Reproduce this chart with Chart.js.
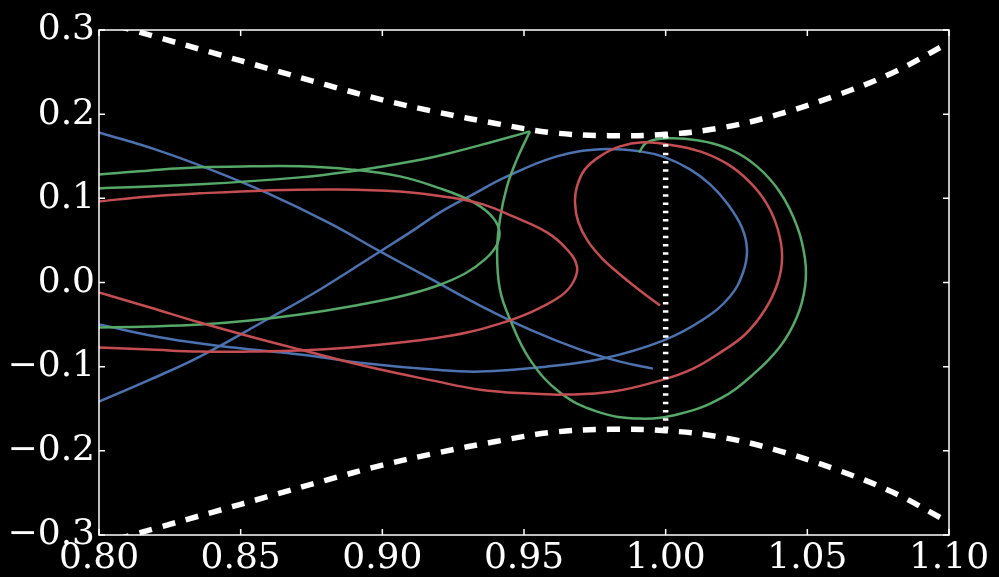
<!DOCTYPE html>
<html><head><meta charset="utf-8">
<script src="https://cdn.jsdelivr.net/npm/chart.js@4/dist/chart.umd.min.js"></script>
<style>html,body{margin:0;padding:0;background:#000;overflow:hidden}canvas{display:block}</style>
</head><body>
<canvas id="c" width="999" height="577"></canvas>
<script>
// Tick values
const xTicks = [0.80, 0.85, 0.90, 0.95, 1.00, 1.05, 1.10];
const yTicks = [-0.3, -0.2, -0.1, 0.0, 0.1, 0.2, 0.3];

// Zero-velocity curve, upper branch
const zvcUpperX = [0.798, 0.820, 0.840, 0.860, 0.880, 0.900, 0.920, 0.940, 0.960, 0.980, 1.000, 1.020, 1.040, 1.060, 1.080, 1.100, 1.102];
const zvcUpperY = [0.313, 0.292, 0.273, 0.254, 0.235, 0.217, 0.202, 0.189, 0.178, 0.1745, 0.176, 0.184, 0.200, 0.222, 0.249, 0.285, 0.289];
// Zero-velocity curve, lower branch
const zvcLowerX = [0.798, 0.820, 0.840, 0.860, 0.880, 0.900, 0.920, 0.940, 0.960, 0.980, 1.000, 1.020, 1.040, 1.060, 1.080, 1.100, 1.102];
const zvcLowerY = [-0.313, -0.292, -0.273, -0.254, -0.235, -0.217, -0.202, -0.189, -0.178, -0.1745, -0.176, -0.184, -0.200, -0.222, -0.249, -0.285, -0.289];
// Dotted vertical line
const dotX = [1.0, 1.0];
const dotY = [0.174, -0.174];

// Blue orbit (two visible pieces)
const blueAX = [0.7968, 0.8000, 0.8198, 0.8392, 0.8604, 0.8815, 0.8992, 0.9168, 0.9345, 0.9521, 0.9698, 0.9839, 0.9955];
const blueAY = [0.1820, 0.1784, 0.1582, 0.1344, 0.1047, 0.0702, 0.0369, 0.0048, -0.0274, -0.0559, -0.0797, -0.0940, -0.1023];
const blueBX = [0.7968, 0.8000, 0.8240, 0.8473, 0.8709, 0.8946, 0.9179, 0.9345, 0.9581, 0.9779, 0.9991, 1.0132, 1.0227, 1.0273, 1.0287, 1.0269, 1.0220, 1.0157, 1.0086, 0.9998, 0.9909, 0.9768, 0.9616, 0.9440, 0.9320, 0.9204, 0.9098, 0.8992, 0.8780, 0.8593, 0.8356, 0.8180, 0.8000, 0.7968];
const blueBY = [-0.0476, -0.0500, -0.0666, -0.0773, -0.0856, -0.0963, -0.1035, -0.1058, -0.0999, -0.0904, -0.0690, -0.0440, -0.0167, 0.0119, 0.0392, 0.0654, 0.0928, 0.1166, 0.1344, 0.1487, 0.1558, 0.1582, 0.1499, 0.1261, 0.1047, 0.0833, 0.0595, 0.0369, -0.0083, -0.0440, -0.0880, -0.1154, -0.1415, -0.1463];

// Green orbit
const greenAX = [0.9906, 0.9934, 1.0005, 1.0111, 1.0227, 1.0322, 1.0404, 1.0464, 1.0492, 1.0492, 1.0464, 1.0404, 1.0308, 1.0192, 1.0051, 0.9909, 0.9758, 0.9627, 0.9521, 0.9451, 0.9415, 0.9405, 0.9415, 0.9440, 0.9475, 0.9521];
const greenAY = [0.1546, 0.1665, 0.1713, 0.1689, 0.1582, 0.1380, 0.1070, 0.0666, 0.0274, -0.0048, -0.0404, -0.0761, -0.1095, -0.1380, -0.1560, -0.1617, -0.1534, -0.1308, -0.0916, -0.0440, -0.0083, 0.0357, 0.0749, 0.1142, 0.1463, 0.1796];
const greenBX = [0.9521, 0.9355, 0.9204, 0.9062, 0.8886, 0.8709, 0.8356, 0.8000, 0.7968];
const greenBY = [0.1796, 0.1641, 0.1510, 0.1415, 0.1320, 0.1249, 0.1166, 0.1118, 0.1118];
const greenCX = [0.7968, 0.8000, 0.8180, 0.8356, 0.8533, 0.8709, 0.8886, 0.9062, 0.9204, 0.9309, 0.9380, 0.9412, 0.9405, 0.9362, 0.9292, 0.9186, 0.9062, 0.8886, 0.8709, 0.8533, 0.8356, 0.8180, 0.8000, 0.7968];
const greenCY = [0.1284, 0.1284, 0.1332, 0.1368, 0.1380, 0.1380, 0.1344, 0.1261, 0.1118, 0.0975, 0.0809, 0.0630, 0.0452, 0.0274, 0.0107, -0.0048, -0.0167, -0.0285, -0.0381, -0.0452, -0.0500, -0.0523, -0.0535, -0.0535];

// Red orbit
const redAX = [0.7968, 0.8000, 0.8180, 0.8356, 0.8593, 0.8826, 0.9062, 0.9239, 0.9355, 0.9461, 0.9581, 0.9652, 0.9687, 0.9673, 0.9627, 0.9521, 0.9415, 0.9299, 0.9179, 0.9062, 0.8886, 0.8709, 0.8533, 0.8356, 0.8180, 0.8000, 0.7968];
const redAY = [0.0951, 0.0963, 0.1023, 0.1059, 0.1094, 0.1106, 0.1082, 0.1011, 0.0928, 0.0785, 0.0595, 0.0392, 0.0190, 0.0000, -0.0167, -0.0357, -0.0488, -0.0595, -0.0666, -0.0714, -0.0773, -0.0809, -0.0821, -0.0821, -0.0797, -0.0773, -0.0773];
const redBX = [0.7968, 0.8000, 0.8180, 0.8356, 0.8533, 0.8709, 0.8946, 0.9179, 0.9345, 0.9521, 0.9638, 0.9814, 0.9991, 1.0097, 1.0192, 1.0280, 1.0351, 1.0396, 1.0411, 1.0396, 1.0358, 1.0298, 1.0220, 1.0121, 1.0005, 0.9920, 0.9839, 0.9768, 0.9715, 0.9687, 0.9680, 0.9691, 0.9726, 0.9779, 0.9839, 0.9909, 0.9980];
const redBY = [-0.0083, -0.0119, -0.0297, -0.0476, -0.0642, -0.0797, -0.0999, -0.1166, -0.1273, -0.1320, -0.1332, -0.1296, -0.1154, -0.1023, -0.0833, -0.0618, -0.0321, 0.0000, 0.0309, 0.0630, 0.0928, 0.1189, 0.1403, 0.1558, 0.1641, 0.1665, 0.1617, 0.1499, 0.1344, 0.1142, 0.0951, 0.0725, 0.0488, 0.0274, 0.0095, -0.0095, -0.0274];

const BLUE = '#4C72B0', GREEN = '#55A868', RED = '#C44E52', WHITE = '#FFFFFF';

function series(xs, ys, color, width, dash, order, tension) {
  return {
    data: xs.map((x, i) => ({x: x, y: ys[i]})),
    borderColor: color, backgroundColor: color, borderWidth: width,
    borderDash: dash || [], pointRadius: 0, pointHoverRadius: 0,
    showLine: true, fill: false, tension: tension, clip: 0, order: order
  };
}

const frame = {
  id: 'frame',
  beforeDraw(chart) {
    const c = chart.ctx; c.save(); c.fillStyle = '#000'; c.fillRect(0, 0, chart.width, chart.height); c.restore();
  },
  afterDraw(chart) {
    const ctx = chart.ctx, a = chart.chartArea, x = chart.scales.x, y = chart.scales.y;
    ctx.save(); ctx.strokeStyle = '#fff'; ctx.lineWidth = 1.5;
    ctx.strokeRect(a.left, a.top, a.right - a.left, a.bottom - a.top);
    ctx.beginPath();
    xTicks.forEach(v => { const p = x.getPixelForValue(v); ctx.moveTo(p, a.bottom); ctx.lineTo(p, a.bottom - 6); ctx.moveTo(p, a.top); ctx.lineTo(p, a.top + 6); });
    yTicks.forEach(v => { const p = y.getPixelForValue(v); ctx.moveTo(a.left, p); ctx.lineTo(a.left + 6, p); ctx.moveTo(a.right, p); ctx.lineTo(a.right - 6, p); });
    ctx.stroke(); ctx.restore();
  }
};

const tickFont = {family: 'DejaVu Serif', size: 36};

new Chart(document.getElementById('c'), {
  type: 'scatter',
  data: {
    datasets: [
      series(zvcUpperX, zvcUpperY, WHITE, 5.5, [13, 11], 0, 0.4),
      series(zvcLowerX, zvcLowerY, WHITE, 5.5, [13, 11], 0, 0.4),
      series(dotX, dotY, WHITE, 5.5, [2.5, 5.8], 0, 0),
      series(redAX, redAY, RED, 2.5, [], 1, 0.4),
      series(redBX, redBY, RED, 2.5, [], 1, 0.4),
      series(greenAX, greenAY, GREEN, 2.5, [], 2, 0.4),
      series(greenBX, greenBY, GREEN, 2.5, [], 2, 0.4),
      series(greenCX, greenCY, GREEN, 2.5, [], 2, 0.4),
      series(blueAX, blueAY, BLUE, 2.5, [], 3, 0.4),
      series(blueBX, blueBY, BLUE, 2.5, [], 3, 0.4)
    ]
  },
  options: {
    responsive: false, animation: false, devicePixelRatio: 1, events: [],
    layout: {padding: {top: 30, right: 50, left: 0, bottom: 0}},
    plugins: {legend: {display: false}, tooltip: {enabled: false}},
    scales: {
      x: {
        type: 'linear', min: 0.8, max: 1.1,
        afterBuildTicks: s => { s.ticks = xTicks.map(v => ({value: v})); },
        afterFit: s => { s.height = 42; },
        grid: {display: false, drawTicks: false}, border: {display: false},
        ticks: {color: '#fff', font: tickFont, padding: 2, maxRotation: 0, autoSkip: false,
                callback: v => Number(v).toFixed(2)}
      },
      y: {
        type: 'linear', min: -0.3, max: 0.3,
        afterBuildTicks: s => { s.ticks = yTicks.map(v => ({value: v})); },
        afterFit: s => { s.width = 99; },
        grid: {display: false, drawTicks: false}, border: {display: false},
        ticks: {color: '#fff', font: tickFont, padding: 4, autoSkip: false,
                callback: v => (v < -1e-9 ? '\u2212' : '') + Math.abs(v).toFixed(1)}
      }
    }
  },
  plugins: [frame]
});
</script>
</body></html>
